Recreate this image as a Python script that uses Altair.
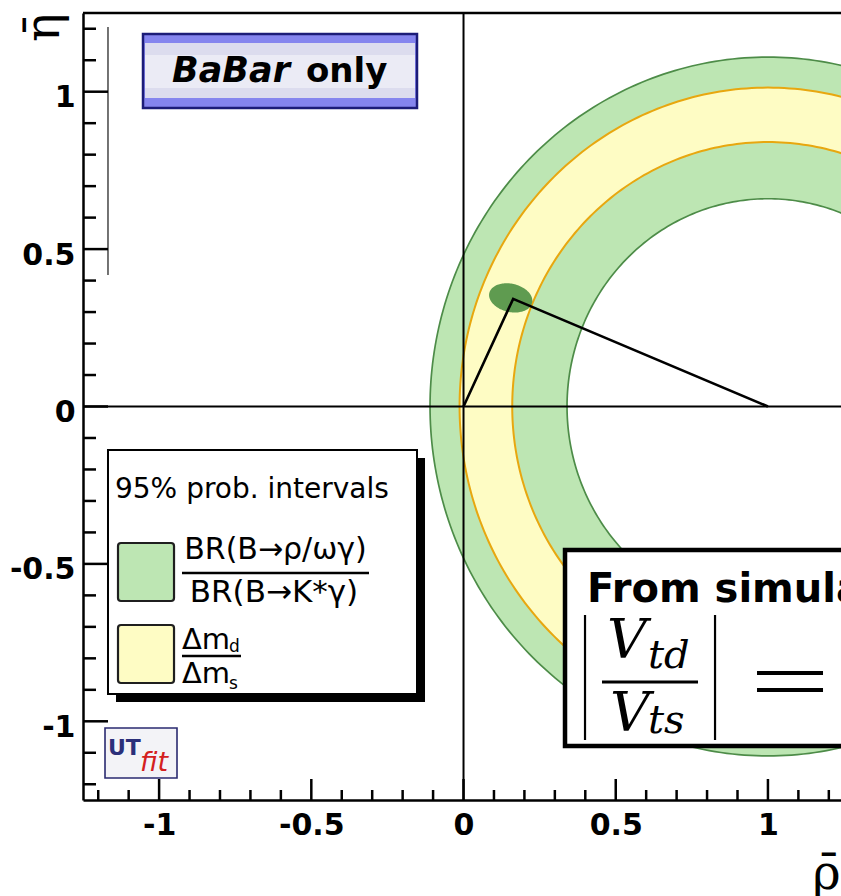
import altair as alt
import numpy as np
import pandas as pd

# ---------------- layout ----------------
W, H = 758, 787
X_DOMAIN = [-1.25, 1.24]
Y_DOMAIN = [-1.25, 1.25]

# ---------------- data ----------------
ring_center = [1.0, 0.0]
green_band = [0.66, 1.11]       # BR(B->rho gamma)/BR(B->K* gamma) 95% radii
yellow_band = [0.84, 1.013]     # dm_d/dm_s 95% radii
ellipse_center = [0.155, 0.345]
ellipse_axes = [0.072, 0.045]
ellipse_tilt = -12.0
triangle_rho = [0.0, 0.163, 1.0]
triangle_eta = [0.0, 0.342, 0.0]
major_ticks = [-1.0, -0.5, 0.0, 0.5, 1.0]
minor_ticks = [-1.2, -1.1, -0.9, -0.8, -0.7, -0.6, -0.4, -0.3, -0.2, -0.1,
               0.1, 0.2, 0.3, 0.4, 0.6, 0.7, 0.8, 0.9, 1.1, 1.2]

GREEN_FILL = "#bde6b3"
GREEN_EDGE = "#4d8c48"
YELLOW_FILL = "#fefcc4"
ORANGE_EDGE = "#e8a70f"
ELLIPSE_FILL = "#5f9b50"

xs = alt.Scale(domain=X_DOMAIN, nice=False, zero=False)
ys = alt.Scale(domain=Y_DOMAIN, nice=False, zero=False)

lab_common = dict(values=major_ticks, labelExpr="'' + datum.value", ticks=False, tickSize=0,
                  grid=False, domain=True, domainColor="black", domainWidth=2.5,
                  labelFont="DejaVu Sans", labelFontWeight="bold", labelFontSize=30,
                  labelColor="black", labelOverlap=False, labelFlush=False,
                  titleFont="DejaVu Serif", titleFontWeight="normal", titleFontSize=48,
                  titleColor="black", titleBaseline="alphabetic")
XAXIS = alt.Axis(title="\u03c1\u0304", labelPadding=10, labelBaseline="top",
                 titleX=729, titleY=88, titleAlign="left", **lab_common)
YAXIS = alt.Axis(title="\u03b7\u0304", labelPadding=8, labelOffset=6,
                 titleAngle=270, titleX=-25, titleY=14, titleAlign="center", **lab_common)


def X(f="x"):
    return alt.X(f, type="quantitative", scale=xs, axis=XAXIS)


def Y(f="y"):
    return alt.Y(f, type="quantitative", scale=ys, axis=YAXIS)


def circle_pts(r, n=360):
    t = np.linspace(0, 2 * np.pi, n + 1)
    return ring_center[0] + r * np.cos(t), ring_center[1] + r * np.sin(t)


def annulus_df(rin, rout):
    xo, yo = circle_pts(rout)
    xi, yi = circle_pts(rin)
    x = np.concatenate([xo, xi[::-1]])
    y = np.concatenate([yo, yi[::-1]])
    return pd.DataFrame({"x": x, "y": y, "i": np.arange(len(x))})


def outline_df(radii, color):
    frames = []
    for k, r in enumerate(radii):
        x, y = circle_pts(r)
        frames.append(pd.DataFrame({"x": x, "y": y, "i": np.arange(len(x)),
                                    "id": f"{color}{k}", "col": color}))
    return pd.concat(frames)


def filled_shape(df, color):
    return alt.Chart(df).mark_line(fill=color, strokeOpacity=0, clip=True).encode(
        x=X(), y=Y(), order="i:Q")


def rect(x, x2, y, y2, **mk):
    df = pd.DataFrame({"x": [x], "x2": [x2], "y": [y], "y2": [y2]})
    return alt.Chart(df).mark_rect(**mk).encode(x=X(), x2="x2", y=Y(), y2="y2")


def rule(x, x2, y, y2, **mk):
    df = pd.DataFrame({"x": [x], "x2": [x2], "y": [y], "y2": [y2]})
    return alt.Chart(df).mark_rule(**mk).encode(x=X(), x2="x2", y=Y(), y2="y2")


def text(x, y, s, **mk):
    df = pd.DataFrame({"x": [x], "y": [y], "t": [s]})
    mk.setdefault("color", "black")
    mk.setdefault("baseline", "alphabetic")
    return alt.Chart(df).mark_text(**mk).encode(x=X(), y=Y(), text="t:N")


layers = []

# rings
layers.append(filled_shape(annulus_df(*green_band), GREEN_FILL))
layers.append(filled_shape(annulus_df(*yellow_band), YELLOW_FILL))
layers.append(alt.Chart(outline_df(green_band, GREEN_EDGE)).mark_line(strokeWidth=1.7, clip=True).encode(
    x=X(), y=Y(), order="i:Q", detail="id:N", color=alt.Color("col:N", scale=None)))
layers.append(alt.Chart(outline_df(yellow_band, ORANGE_EDGE)).mark_line(strokeWidth=2.0, clip=True).encode(
    x=X(), y=Y(), order="i:Q", detail="id:N", color=alt.Color("col:N", scale=None)))

# ellipse (fit region)
t = np.linspace(0, 2 * np.pi, 121)
phi = np.deg2rad(ellipse_tilt)
ex = ellipse_center[0] + ellipse_axes[0] * np.cos(t) * np.cos(phi) - ellipse_axes[1] * np.sin(t) * np.sin(phi)
ey = ellipse_center[1] + ellipse_axes[0] * np.cos(t) * np.sin(phi) + ellipse_axes[1] * np.sin(t) * np.cos(phi)
layers.append(filled_shape(pd.DataFrame({"x": ex, "y": ey, "i": np.arange(len(t))}), ELLIPSE_FILL))

# cross-hair lines
layers.append(alt.Chart(pd.DataFrame({"x": [0.0]})).mark_rule(color="black", strokeWidth=2).encode(x=X()))
layers.append(alt.Chart(pd.DataFrame({"y": [0.0]})).mark_rule(color="black", strokeWidth=2).encode(y=Y()))

# triangle
tri = pd.DataFrame({"x": triangle_rho, "y": triangle_eta, "i": [0, 1, 2]})
layers.append(alt.Chart(tri).mark_line(color="black", strokeWidth=2.6).encode(x=X(), y=Y(), order="i:Q"))

# thin line near the top-left
layers.append(rule(-1.1679, -1.1679, 1.2055, 0.4177, color="black", strokeWidth=1.1))

# BaBar only box
layers.append(rect(-1.0529, -0.1528, 1.1833, 0.9482, color="#8585ee", stroke="#1c1c78", strokeWidth=2.5))
layers.append(rect(-1.0463, -0.1594, 1.1547, 0.9800, color="#dcdcee"))
layers.append(rect(-1.0463, -0.1594, 1.1166, 1.0118, color="#ebebf5"))
layers.append(text(-0.9575, 1.0308, "BaBar", align="left", font="DejaVu Sans", fontSize=35,
                   fontWeight="bold", fontStyle="italic"))
layers.append(text(-0.5175, 1.0308, "only", align="left", font="DejaVu Sans", fontSize=34,
                   fontWeight="bold"))

# legend box
layers.append(rect(-1.1416, -0.1265, -0.1636, -0.9387, color="black"))
layers.append(rect(-1.1679, -0.1528, -0.1382, -0.9133, color="white", stroke="black", strokeWidth=2))
layers.append(text(-1.1449, -0.2907, "95% prob. intervals", align="left", font="DejaVu Sans", fontSize=28))
layers.append(rect(-1.1350, -0.9510, -0.4336, -0.6179, color=GREEN_FILL, stroke="#1f1f1f",
                   strokeWidth=2.2, cornerRadius=3))
layers.append(rect(-1.1350, -0.9510, -0.6941, -0.8783, color=YELLOW_FILL, stroke="#1f1f1f",
                   strokeWidth=2.2, cornerRadius=3))
layers.append(text(-0.6176, -0.4844, "BR(B\u2192\u03c1/\u03c9\u03b3)", align="center",
                   font="DejaVu Sans", fontSize=30))
layers.append(rule(-0.9248, -0.3105, -0.5289, -0.5289, color="black", strokeWidth=2.5))
layers.append(text(-0.6226, -0.6210, "BR(B\u2192K*\u03b3)", align="center",
                   font="DejaVu Sans", fontSize=31))
layers.append(text(-0.9248, -0.7704, "\u0394m", align="left", font="DejaVu Sans", fontSize=29))
layers.append(text(-0.7704, -0.7799, "d", align="left", font="DejaVu Sans", fontSize=17))
layers.append(rule(-0.9248, -0.7310, -0.7925, -0.7925, color="black", strokeWidth=2.5))
layers.append(text(-0.9248, -0.8783, "\u0394m", align="left", font="DejaVu Sans", fontSize=29))
layers.append(text(-0.7704, -0.8974, "s", align="left", font="DejaVu Sans", fontSize=17))

# UTfit logo
layers.append(rect(-1.1777, -0.9412, -1.0213, -1.1801, color="#f3f3f7", stroke="#2a2a70", strokeWidth=1.6))
layers.append(text(-1.1679, -1.1070, "UT", align="left", font="DejaVu Sans", fontSize=22,
                   fontWeight="bold", color="#2b2f7a"))
layers.append(text(-1.0627, -1.1579, "fit", align="left", font="DejaVu Sans", fontSize=27,
                   fontStyle="italic", color="#d42020"))

# "From simulation" box
layers.append(rect(0.3334, 1.6, -0.4558, -1.0785, color="white", stroke="black", strokeWidth=4.5, clip=True))
layers.append(text(0.4057, -0.6210, "From simulation:", align="left", font="DejaVu Sans",
                   fontSize=40, fontWeight="bold", clip=True))
layers.append(rule(0.3991, 0.3991, -0.6623, -1.0594, color="black", strokeWidth=2.2))
layers.append(rule(0.8262, 0.8262, -0.6623, -1.0594, color="black", strokeWidth=2.2))
layers.append(rule(0.4549, 0.7703, -0.8752, -0.8752, color="black", strokeWidth=3))
layers.append(text(0.4714, -0.7989, "V", align="left", font="DejaVu Serif", fontSize=55, fontStyle="italic"))
layers.append(text(0.6060, -0.8307, "td", align="left", font="DejaVu Serif", fontSize=40, fontStyle="italic"))
layers.append(text(0.4813, -1.0308, "V", align="left", font="DejaVu Serif", fontSize=55, fontStyle="italic"))
layers.append(text(0.6060, -1.0372, "ts", align="left", font="DejaVu Serif", fontSize=40, fontStyle="italic"))
layers.append(rule(0.9641, 1.1809, -0.8466, -0.8466, color="black", strokeWidth=4, clip=True))
layers.append(rule(0.9641, 1.1809, -0.9006, -0.9006, color="black", strokeWidth=4, clip=True))

# inward tick marks
lt_major = pd.DataFrame({"v": major_ticks})
lt_minor = pd.DataFrame({"v": minor_ticks})
layers.append(alt.Chart(lt_major).mark_rule(color="black", strokeWidth=2.5).encode(
    y=Y("v"), x=alt.value(0), x2=alt.value(25)))
layers.append(alt.Chart(lt_minor).mark_rule(color="black", strokeWidth=2.5).encode(
    y=Y("v"), x=alt.value(0), x2=alt.value(13)))
layers.append(alt.Chart(lt_major).mark_rule(color="black", strokeWidth=2.5).encode(
    x=X("v"), y=alt.value(H), y2=alt.value(H - 21)))
layers.append(alt.Chart(lt_minor).mark_rule(color="black", strokeWidth=2.5).encode(
    x=X("v"), y=alt.value(H), y2=alt.value(H - 10)))

# top frame line
layers.append(alt.Chart(pd.DataFrame({"y": [Y_DOMAIN[1]]})).mark_rule(color="black", strokeWidth=2.5).encode(
    y=Y()))

chart = alt.layer(*layers).properties(
    width=W, height=H,
    autosize=alt.AutoSizeParams(type="none"),
    padding={"left": 83, "top": 13, "right": 0, "bottom": 96},
    background="white",
).configure_view(strokeWidth=0)

chart.save("out.html", embed_options={"renderer": "svg", "actions": False})
